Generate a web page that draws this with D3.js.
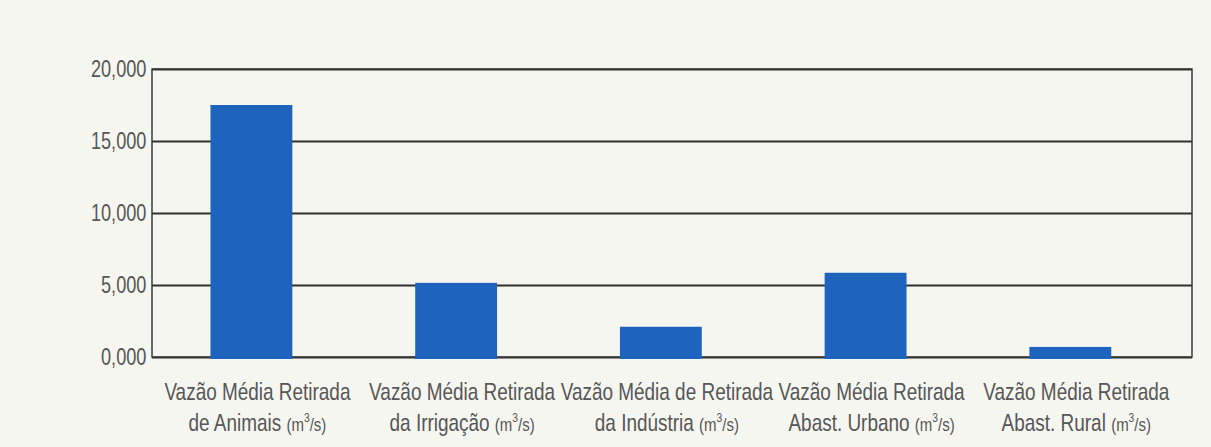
<!DOCTYPE html>
<html>
<head>
<meta charset="utf-8">
<script src="https://cdn.jsdelivr.net/npm/d3@7"></script>
<style>
  body { margin: 0; background: #f6f6f1; }
  svg { display: block; }
  .tick_text, .cat_text { font-family: "Liberation Sans", Arial, sans-serif; fill: #575757; }
</style>
</head>
<body>
<figure id="vazao" style="margin:0"></figure>
<script>
// categories, split in two lines like the original
var catLine1 = ["Vazão Média Retirada", "Vazão Média Retirada", "Vazão Média de Retirada", "Vazão Média Retirada", "Vazão Média Retirada"];
var catLine2 = ["de Animais", "da Irrigação", "da Indústria", "Abast. Urbano", "Abast. Rural"];
var values = [17500, 5150, 2100, 5850, 700];
var tickValues = [0, 5000, 10000, 15000, 20000];
var tickLabels = ["0,000", "5,000", "10,000", "15,000", "20,000"];

var squeeze = 0.79; // the original font is a narrow one, fake it with a horizontal scale

var dimensions = {
	width: 1211,
	height: 447,
	margin: { top: 69, right: 19, bottom: 90, left: 152 }
};
dimensions.boundedWidth = dimensions.width - dimensions.margin.left - dimensions.margin.right
dimensions.boundedHeight = dimensions.height - dimensions.margin.top - dimensions.margin.bottom

var svg = d3.select("figure#vazao")
	.append("svg")
	.attr("width", dimensions.width)
	.attr("height", dimensions.height)
	.append("g")
	.attr("transform", `translate(${dimensions.margin.left},${dimensions.margin.top})`);

var xScale = d3.scaleBand()
	.domain(d3.range(values.length))
	.range([0, dimensions.boundedWidth])
	.paddingInner(0.6)
	.paddingOuter(0.34)
	.align(0.42);

var yScale = d3.scaleLinear()
	.domain([0, 20000])
	.range([dimensions.boundedHeight, 0]);

// gridlines + tick labels
var yAxis = svg.append("g")
	.attr("class", "y_axis")
	.call(d3.axisLeft(yScale)
		.tickValues(tickValues)
		.tickFormat((d, i) => tickLabels[i])
		.tickSize(-dimensions.boundedWidth)
		.tickPadding(7))
	.call(g => g.select(".domain").remove());

yAxis.selectAll(".tick line")
	.attr("stroke", "#2e2e2e")
	.attr("stroke-width", 2);

yAxis.selectAll("text")
	.attr("class", "tick_text")
	.attr("transform", `scale(${squeeze},1)`)
	.style("font-size", "23px");

// frame of the plot area
svg.append("rect")
	.attr("width", dimensions.boundedWidth)
	.attr("height", dimensions.boundedHeight)
	.attr("fill", "none")
	.attr("stroke", "#3a3a3a")
	.attr("stroke-width", 1.5);

// bars
svg.selectAll("rect.bar")
	.data(values)
	.enter()
	.append("rect")
	.attr("class", "bar")
	.attr("x", (d, i) => xScale(i))
	.attr("y", d => yScale(d))
	.attr("width", xScale.bandwidth())
	.attr("height", d => yScale(0) - yScale(d) + 2)
	.attr("fill", "#1e64bf");

// category labels
var labels = svg.selectAll("text.cat_text")
	.data(values)
	.enter()
	.append("text")
	.attr("class", "cat_text")
	.attr("text-anchor", "middle")
	.attr("transform", (d, i) => `translate(${xScale(i) + xScale.bandwidth() / 2 + 6},${dimensions.boundedHeight}) scale(${squeeze},1)`);

labels.append("tspan")
	.attr("x", 0)
	.attr("y", 43)
	.style("font-size", "24px")
	.text((d, i) => catLine1[i]);

labels.append("tspan")
	.attr("x", 0)
	.attr("y", 74)
	.style("font-size", "24px")
	.text((d, i) => catLine2[i] + " ");

labels.append("tspan")
	.style("font-size", "19px")
	.text("(m");
labels.append("tspan")
	.style("font-size", "13px")
	.attr("dy", -9)
	.text("3");
labels.append("tspan")
	.style("font-size", "19px")
	.attr("dy", 9)
	.text("/s)");
</script>
</body>
</html>
